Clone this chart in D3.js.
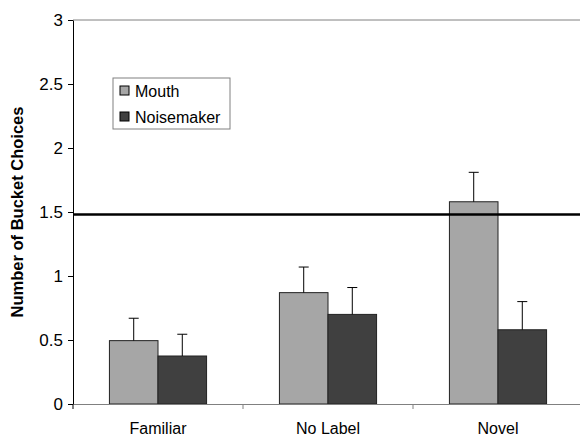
<!DOCTYPE html>
<html>
<head>
<meta charset="utf-8">
<script src="https://cdn.jsdelivr.net/npm/d3@7"></script>
<style>
  body { margin: 0; background: #fff; }
  text { font-family: Arial, "Liberation Sans", sans-serif; }
</style>
</head>
<body>
<div id="chart"></div>
<script>
const categories = ["Familiar", "No Label", "Novel"];
const seriesNames = ["Mouth", "Noisemaker"];
const mouthValues = [0.495, 0.87, 1.58];
const mouthErrors = [0.175, 0.20, 0.23];
const noiseValues = [0.375, 0.70, 0.58];
const noiseErrors = [0.17, 0.21, 0.22];
const yTicks = [0, 0.5, 1, 1.5, 2, 2.5, 3];
const chanceLevel = 1.48;

const width = 580;
const height = 436;
const margin = {top: 20, right: -3, bottom: 32, left: 73};
const colors = ["#a6a6a6", "#404040"];
const font = "Arial, 'Liberation Sans', sans-serif";

const svg = d3.select("#chart")
    .append("svg")
    .attr("width", width)
    .attr("height", height);

const scaleX = d3.scaleBand()
    .domain(categories)
    .range([margin.left, width - margin.right])
    .paddingInner(0)
    .paddingOuter(0);

const scaleSeries = d3.scaleBand()
    .domain(seriesNames)
    .range([0, scaleX.bandwidth()])
    .paddingInner(0)
    .paddingOuter(0.75);

const scaleY = d3.scaleLinear()
    .domain([0, 3])
    .range([height - margin.bottom, margin.top]);

// top border of plot area
svg.append("line")
    .attr("x1", margin.left).attr("x2", width)
    .attr("y1", scaleY(3)).attr("y2", scaleY(3))
    .attr("stroke", "#808080").attr("stroke-width", 1);

// bars
const data = [];
categories.forEach((c, i) => {
    data.push({cat: c, s: seriesNames[0], v: mouthValues[i], e: mouthErrors[i], color: colors[0]});
    data.push({cat: c, s: seriesNames[1], v: noiseValues[i], e: noiseErrors[i], color: colors[1]});
});

const groupBars = svg.append("g").attr("class", "bars");
groupBars.selectAll("rect")
    .data(data)
    .enter()
    .append("rect")
    .attr("x", d => scaleX(d.cat) + scaleSeries(d.s))
    .attr("y", d => scaleY(d.v))
    .attr("width", scaleSeries.bandwidth())
    .attr("height", d => scaleY(0) - scaleY(d.v))
    .attr("fill", d => d.color)
    .attr("stroke", "#222")
    .attr("stroke-width", 1);

// error bars (upper only)
const groupErr = svg.append("g").attr("class", "errors");
data.forEach(d => {
    const cx = scaleX(d.cat) + scaleSeries(d.s) + scaleSeries.bandwidth() / 2;
    groupErr.append("line")
        .attr("x1", cx).attr("x2", cx)
        .attr("y1", scaleY(d.v)).attr("y2", scaleY(d.v + d.e))
        .attr("stroke", "#000").attr("stroke-width", 1);
    groupErr.append("line")
        .attr("x1", cx - 5).attr("x2", cx + 5)
        .attr("y1", scaleY(d.v + d.e)).attr("y2", scaleY(d.v + d.e))
        .attr("stroke", "#000").attr("stroke-width", 1);
});

// chance line
svg.append("line")
    .attr("x1", margin.left).attr("x2", width)
    .attr("y1", scaleY(chanceLevel)).attr("y2", scaleY(chanceLevel))
    .attr("stroke", "#000").attr("stroke-width", 2.5);

// y axis
const yAxis = d3.axisLeft(scaleY)
    .tickValues(yTicks)
    .tickFormat(d => d)
    .tickSize(5)
    .tickSizeOuter(0)
    .tickPadding(5);
const groupAxisY = svg.append("g")
    .attr("transform", `translate(${margin.left}, 0)`)
    .call(yAxis);
groupAxisY.select(".domain").attr("stroke", "#000");
groupAxisY.selectAll("text").attr("font-size", 17).attr("fill", "#000")
    .attr("font-family", font);

// x axis
const xAxis = d3.axisBottom(scaleX).tickSize(0).tickSizeOuter(0).tickPadding(0);
const groupAxisX = svg.append("g")
    .attr("transform", `translate(0, ${scaleY(0)})`)
    .call(xAxis);
groupAxisX.select(".domain").attr("stroke", "#808080");
groupAxisX.selectAll("text")
    .attr("y", 30).attr("dy", 0)
    .attr("font-size", 16).attr("fill", "#000")
    .attr("font-family", font);
// boundary ticks between categories
categories.forEach((c, i) => {
    if (i === 0) return;
    groupAxisX.append("line")
        .attr("x1", scaleX(c)).attr("x2", scaleX(c))
        .attr("y1", 0).attr("y2", 5)
        .attr("stroke", "#808080");
});
groupAxisX.append("line")
    .attr("x1", margin.left).attr("x2", margin.left)
    .attr("y1", 0).attr("y2", 5)
    .attr("stroke", "#000");

// y axis title
svg.append("text")
    .attr("transform", `translate(23, ${(scaleY(0) + scaleY(3)) / 2}) rotate(-90)`)
    .attr("text-anchor", "middle")
    .attr("font-size", 16.5)
    .attr("font-weight", "bold")
    .text("Number of Bucket Choices");

// legend
const legend = svg.append("g").attr("class", "legend")
    .attr("transform", "translate(113, 78)");
legend.append("rect")
    .attr("width", 117).attr("height", 51)
    .attr("fill", "#fff").attr("stroke", "#808080");
seriesNames.forEach((s, i) => {
    const g = legend.append("g").attr("transform", `translate(7, ${8 + i * 26})`);
    g.append("rect")
        .attr("width", 9).attr("height", 9)
        .attr("fill", colors[i]).attr("stroke", "#000");
    g.append("text")
        .attr("x", 15).attr("y", 11)
        .attr("font-size", 16)
        .text(s);
});
</script>
</body>
</html>
